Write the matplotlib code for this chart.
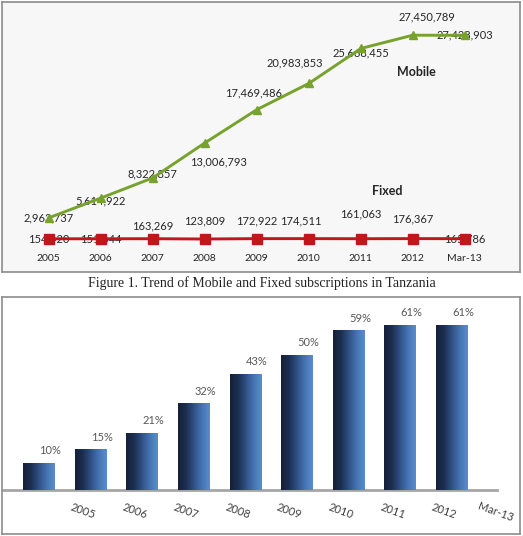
import numpy as np
import matplotlib
matplotlib.use("Agg")
import matplotlib.pyplot as plt
from matplotlib.colors import LinearSegmentedColormap
import matplotlib.transforms as mtrans

plt.rcParams["font.family"] = ["Lato", "DejaVu Sans"]

# data
periods = ["2005", "2006", "2007", "2008", "2009", "2010", "2011", "2012", "Mar-13"]
mobile = [2963737, 5614922, 8322857, 13006793, 17469486, 20983853, 25668455, 27450789, 27428903]
fixed = [154420, 151644, 163269, 123809, 172922, 174511, 161063, 176367, 165786]
penetration = [10, 15, 21, 32, 43, 50, 59, 61, 61]

# label offsets (points) for data labels
mob_off = [(0, 0), (0, -2), (0, 3), (10, -14), (-2, 12), (-10, 15), (0, -3), (10, 13), (0, 0)]
fix_off = [(0, 0), (0, 0), (0, 9), (0, 13), (0, 13), (-6, 13), (0, 18), (0, 14), (0, 0)]

W, H = 523, 536
fig = plt.figure(figsize=(W / 100, H / 100), dpi=100)

def box(x0, y0, x1, y1):
    return [x0 / W, 1 - y1 / H, (x1 - x0) / W, (y1 - y0) / H]

# ---------- top: line chart ----------
ax = fig.add_axes(box(2, 2, 520, 272))
ax.set_facecolor("#f7f7f7")
x = np.arange(len(periods))
m = np.array(mobile) / 1e6
f = np.array(fixed) / 1e6
ax.plot(x, m, color="#77a22d", lw=2.1, marker="^", ms=6, zorder=4)
ax.plot(x, f, color="#c0171c", lw=2.1, marker="s", ms=6.5, zorder=4)
for xi, v, (dx, dy) in zip(x, mobile, mob_off):
    ax.annotate(f"{v:,}", (xi, v / 1e6), xytext=(dx, dy), textcoords="offset points",
                ha="center", va="center", fontsize=8, color="#262626", zorder=3)
for xi, v, (dx, dy) in zip(x, fixed, fix_off):
    ax.annotate(f"{v:,}", (xi, v / 1e6), xytext=(dx, dy), textcoords="offset points",
                ha="center", va="center", fontsize=8, color="#262626", zorder=3)
ax.text(7.06, 22.5, "Mobile", fontsize=9, fontweight="bold", color="#262626", ha="center", va="center")
ax.text(6.5, 6.6, "Fixed", fontsize=9, fontweight="bold", color="#262626", ha="center", va="center")
trans = mtrans.blended_transform_factory(ax.transData, ax.transAxes)
for xi, p in zip(x, periods):
    ax.text(xi, 0.05, p, transform=trans, ha="center", va="center", fontsize=7.5, color="#262626")
ax.set_xlim(-0.9, 9.06)
ax.set_ylim(-4.3, 31.9)
ax.set_xticks([]); ax.set_yticks([])
for s in ax.spines.values():
    s.set_color("#8c8c8c"); s.set_linewidth(1.2)

fig.text(0.5, 1 - 283 / H, "Figure 1. Trend of Mobile and Fixed subscriptions in Tanzania",
         ha="center", va="center", fontsize=10, family="Liberation Serif", color="#222222")

# ---------- bottom: bars ----------
ax2 = fig.add_axes(box(2, 297, 520, 534))
xb = np.arange(len(penetration))
cmap = LinearSegmentedColormap.from_list("bar", ["#15203a", "#1c2f50", "#2f5185", "#4674b3", "#5a8ccc"])
grad = np.linspace(0, 1, 64).reshape(1, -1)
bars = ax2.bar(xb, penetration, width=0.62, color="none", edgecolor="none")
for b in bars:
    im = ax2.imshow(grad, cmap=cmap, aspect="auto", zorder=2,
                    extent=[b.get_x(), b.get_x() + b.get_width(), 0, b.get_height()])
    im.set_clip_path(b)
for xi, v in zip(xb, penetration):
    ax2.text(xi + 0.22, v + 4.5, f"{v}%", ha="center", va="center", fontsize=8, color="#595959")
ax2.axhline(0, xmin=0, xmax=0.955, color="#a6a6a6", lw=2, zorder=1)
for xi, p in zip(xb, periods):
    ax2.text(xi + 0.85, -8, p, ha="center", va="center", rotation=-20, fontsize=8, color="#404040")
ax2.set_xlim(-0.72, 9.32)
ax2.set_ylim(-16.3, 71.3)
ax2.set_xticks([]); ax2.set_yticks([])
for s in ax2.spines.values():
    s.set_color("#8c8c8c"); s.set_linewidth(1.2)

fig.savefig("out.png", dpi=100)
